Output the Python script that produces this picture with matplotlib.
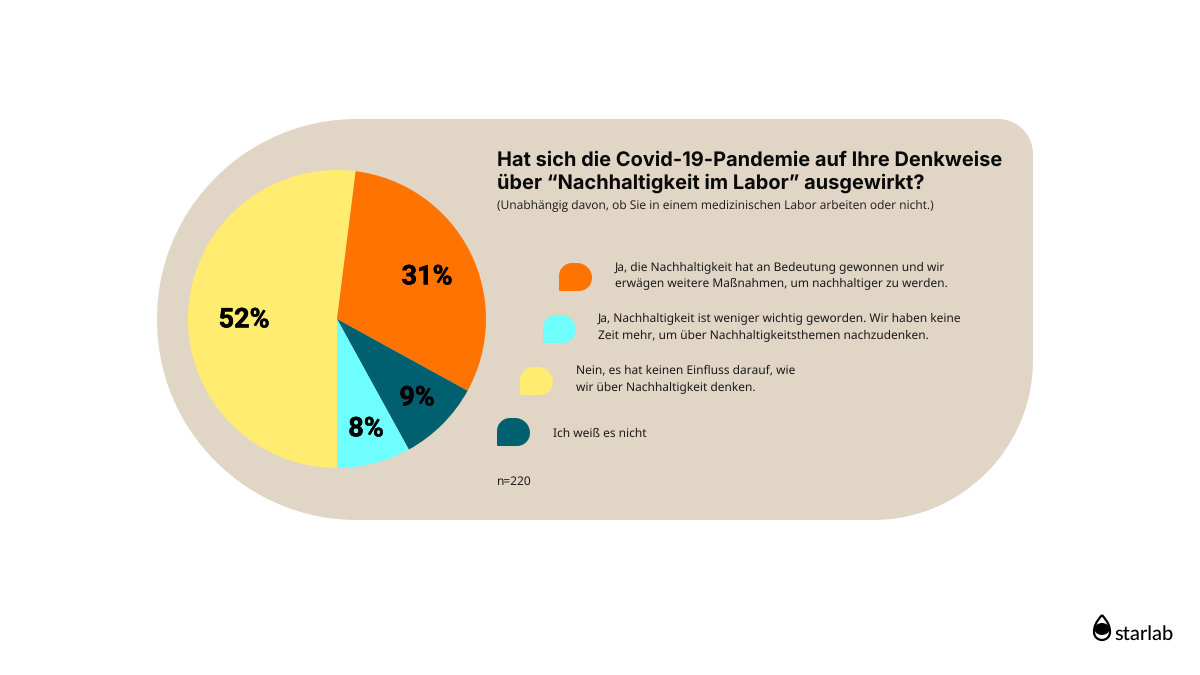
import matplotlib
matplotlib.use('Agg')
import matplotlib.pyplot as plt
import matplotlib.patheffects as pe
from matplotlib.path import Path
from matplotlib.patches import PathPatch, Ellipse
matplotlib.rcParams['text.hinting']='no_hinting'
matplotlib.rcParams['text.hinting_factor']=1

# data
values=[52,31,9,8]
colors=['#FFEC70','#FF7300','#006070','#6FFFFF']
pct_labels=['52%','31%','9%','8%']
pct_pos=[(244,320),(427,277),(417,398),(366,429)]

title_lines=['Hat sich die Covid-19-Pandemie auf Ihre Denkweise','über “Nachhaltigkeit im Labor” ausgewirkt?']
subtitle='(Unabhängig davon, ob Sie in einem medizinischen Labor arbeiten oder nicht.)'
legend_texts=['Ja, die Nachhaltigkeit hat an Bedeutung gewonnen und wir\nerwägen weitere Maßnahmen, um nachhaltiger zu werden.',
              'Ja, Nachhaltigkeit ist weniger wichtig geworden. Wir haben keine\nZeit mehr, um über Nachhaltigkeitsthemen nachzudenken.',
              'Nein, es hat keinen Einfluss darauf, wie\nwir über Nachhaltigkeit denken.',
              'Ich weiß es nicht']
legend_colors=['#FF7300','#6FFFFF','#FFEC70','#006070']
legend_swatch_x=[559,543,520,497]
legend_swatch_y=[263,315,367,418]
legend_text_x=[615,598,576,553]
legend_text_y=[275,326.5,378.5,433.5]

H=675
BG='#E1D5C5'
K=0.5523

def rounded(x0,y0,x1,y1,tl,tr,br,bl):
    # pixel coords, y down, radii per corner
    v=[(x0+tl,y0),(x1-tr,y0),
       (x1-tr+K*tr,y0),(x1,y0+tr-K*tr),(x1,y0+tr),
       (x1,y1-br),
       (x1,y1-br+K*br),(x1-br+K*br,y1),(x1-br,y1),
       (x0+bl,y1),
       (x0+bl-K*bl,y1),(x0,y1-bl+K*bl),(x0,y1-bl),
       (x0,y0+tl),
       (x0,y0+tl-K*tl),(x0+tl-K*tl,y0),(x0+tl,y0)]
    c=[Path.MOVETO,Path.LINETO]+[Path.CURVE4]*3+[Path.LINETO]+[Path.CURVE4]*3+[Path.LINETO]+[Path.CURVE4]*3+[Path.LINETO]+[Path.CURVE4]*3
    return Path([(a,H-b) for a,b in v],c)

def txt(x,y,s,**kw):
    return ax.text(x,H-y,s,**kw)

fig=plt.figure(figsize=(12,6.75),dpi=100,facecolor='white')
ax=fig.add_axes([0,0,1,1])

ax.add_patch(PathPatch(rounded(157,119,1033,520,200,35,160,200),fc=BG,ec='none',zorder=0))

ax.pie(values,colors=colors,startangle=270,counterclock=False,center=(337,H-319),radius=149,
       wedgeprops=dict(linewidth=0))
ax.set_xlim(0,1200)
ax.set_ylim(0,H)
ax.axis('off')

heavy=[pe.withStroke(linewidth=0.35,foreground='black')]
for s,(x,y) in zip(pct_labels,pct_pos):
    txt(x,y,s,family='Roboto',weight='bold',fontsize=19.5,color='black',ha='center',va='center',path_effects=heavy)

txt(497,161,title_lines[0],family='Inter',weight='bold',fontsize=14.4,color='#0a0a0a',ha='left',va='center')
txt(497,183,title_lines[1],family='Inter',weight='bold',fontsize=14.4,color='#0a0a0a',ha='left',va='center')
txt(497,205.5,subtitle,family='Open Sans',fontsize=8.3,color='#1a1a1a',ha='left',va='center')

for i in range(len(legend_texts)):
    x=legend_swatch_x[i]
    y=legend_swatch_y[i]
    ax.add_patch(PathPatch(rounded(x,y,x+33,y+28,13,15,13,1),fc=legend_colors[i],ec='none'))
    txt(legend_text_x[i],legend_text_y[i],legend_texts[i],family='Noto Sans',fontsize=8.6,color='#1a1a1a',
        ha='left',va='center',linespacing=1.5)

txt(497,481.5,'n=220',family='Noto Sans',fontsize=8.6,color='#1a1a1a',ha='left',va='center')

# logo
drop=Path([(a,H-b) for a,b in [(1102,615),(1096,622),(1094,626),(1094,632),(1094,637),(1098,640),(1102,640),
                               (1106,640),(1110,637),(1110,632),(1110,626),(1108,622),(1102,615)]],
          [Path.MOVETO]+[Path.CURVE4]*12)
ax.add_patch(PathPatch(drop,fc='white',ec='black',lw=1.6))
ax.add_patch(Ellipse((1102,H-629),15,12,fc='black',ec='none'))
txt(1114.5,634,'starlab',family='Lato',weight='medium',fontsize=14.5,color='black',ha='left',va='center')

fig.savefig('out.png',dpi=100,facecolor='white')
